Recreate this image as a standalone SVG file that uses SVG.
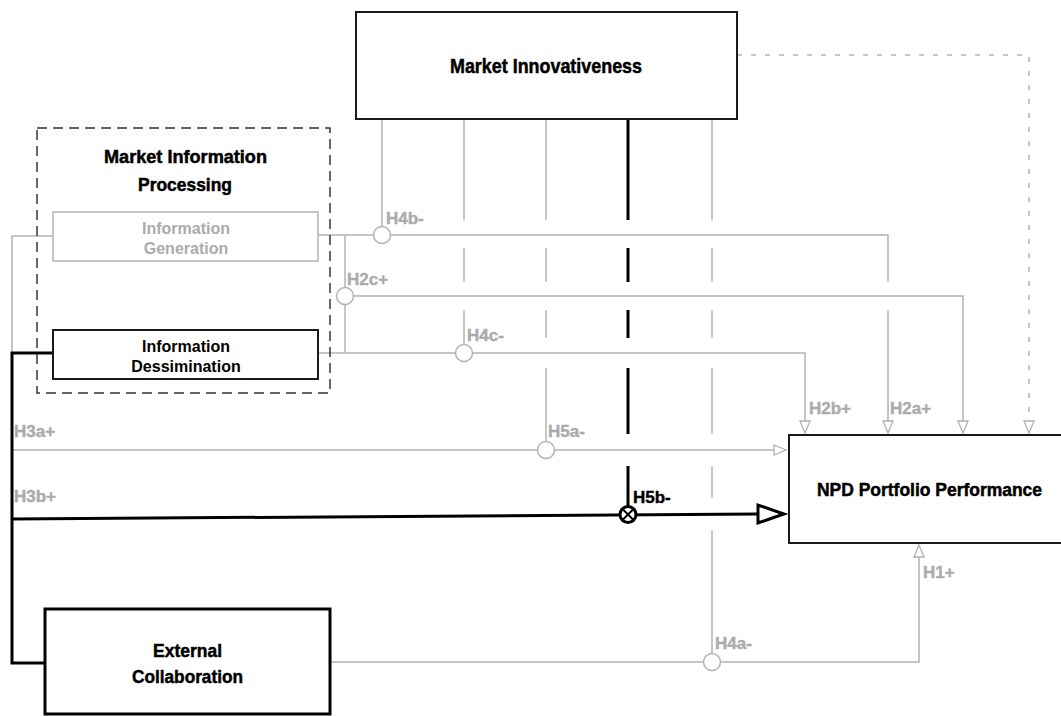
<svg xmlns="http://www.w3.org/2000/svg" width="1061" height="716" viewBox="0 0 1061 716">
  <defs>
    <style>
      .title { font-family: "Liberation Sans", Arial, sans-serif; font-weight: bold; fill: #000; stroke: #000; stroke-width: 0.5; text-anchor: middle; }
      .sub { font-family: "Liberation Sans", Arial, sans-serif; font-weight: bold; font-size: 16px; text-anchor: middle; }
      .lbl { font-family: "Liberation Sans", Arial, sans-serif; font-weight: bold; font-size: 17px; fill: #ababab; stroke: #ababab; stroke-width: 0.4; }
      .lbl-dark { fill: #000; stroke: #000; }
      .box { fill: #fff; stroke: #1a1a1a; stroke-width: 2; }
      .g { fill: none; stroke: #b3b3b3; stroke-width: 1.5; }
      .k { fill: none; stroke: #000; stroke-width: 3; }
      .dot { fill: #fff; stroke: #b3b3b3; stroke-width: 1.5; }
      .tip { fill: #fff; stroke: #b3b3b3; stroke-width: 1.3; stroke-linejoin: miter; }
    </style>
  </defs>

  <!-- connectors -->
  <g id="connectors">
    <!-- moderator verticals from Market Innovativeness, broken where they hop over crossings -->
    <path class="g" d="M382,119 V226.5"/>
    <path class="g" d="M464,119 V220 M464,248 V282 M464,310 V344.5"/>
    <path class="g" d="M546,119 V220 M546,248 V282 M546,310 V338 M546,368 V441.5"/>
    <path class="k" d="M628,119 V220 M628,248 V282 M628,310 V338 M628,368 V434 M628,466 V507"/>
    <path class="g" d="M712,119 V220 M712,248 V282 M712,310 V338 M712,368 V434 M712,466 V498 M712,530 V653.5"/>

    <!-- Information Generation -> NPD (H2a) -->
    <path class="g" d="M318,235 H888 V282 M888,310 V421"/>
    <!-- Information Generation -> Information Dessimination (H2c) -->
    <path class="g" d="M345,235 V353"/>
    <path class="g" d="M345,296 H963 V421"/>
    <!-- Information Dessimination -> NPD (H2b) -->
    <path class="g" d="M318,353 H805 V421"/>
    <!-- Information Generation -> NPD (H3a) -->
    <path class="g" d="M53,236 H12 V450 H774"/>
    <!-- Market Innovativeness -> NPD (dotted control path) -->
    <path class="g" d="M737,55 H1029 V421" stroke-dasharray="5 9"/>
    <!-- External Collaboration -> NPD (H1) -->
    <path class="g" d="M330,662 H919 V556"/>

    <!-- Information Dessimination / External Collaboration -> NPD (H3b) -->
    <path class="k" d="M53,353 H12 V663 H45"/>
    <path class="k" d="M12,519 L758,514"/>

    <!-- open arrowheads -->
    <path class="tip" d="M800,421 H810 L805,433 Z"/>
    <path class="tip" d="M883,421 H893 L888,433 Z"/>
    <path class="tip" d="M958,421 H968 L963,433 Z"/>
    <path class="tip" d="M1024,421 H1034 L1029,433 Z"/>
    <path class="tip" d="M774,445 V455 L786,450 Z"/>
    <path class="tip" d="M914,557 H924 L919,545 Z"/>
    <path d="M758,505 V523 L784,514 Z" fill="#fff" stroke="#000" stroke-width="3" stroke-linejoin="miter"/>

    <!-- moderation junctions -->
    <circle class="dot" cx="382" cy="235" r="8.5"/>
    <circle class="dot" cx="345" cy="296" r="8.5"/>
    <circle class="dot" cx="464" cy="353" r="8.5"/>
    <circle class="dot" cx="546" cy="450" r="8.5"/>
    <circle class="dot" cx="712" cy="662" r="8.5"/>
    <g id="junction-h5b">
      <circle cx="628" cy="514.5" r="8" fill="#fff" stroke="#000" stroke-width="3"/>
      <path d="M623,509.5 L633,519.5 M633,509.5 L623,519.5" stroke="#000" stroke-width="2"/>
    </g>

    <!-- hypothesis labels -->
    <text class="lbl" x="386" y="224">H4b-</text>
    <text class="lbl" x="347" y="285">H2c+</text>
    <text class="lbl" x="467" y="341">H4c-</text>
    <text class="lbl" x="548" y="437">H5a-</text>
    <text class="lbl lbl-dark" x="633" y="503">H5b-</text>
    <text class="lbl" x="14" y="437">H3a+</text>
    <text class="lbl" x="14" y="502">H3b+</text>
    <text class="lbl" x="809" y="414">H2b+</text>
    <text class="lbl" x="890" y="414">H2a+</text>
    <text class="lbl" x="923" y="578">H1+</text>
    <text class="lbl" x="715" y="649">H4a-</text>
  </g>

  <!-- Market Innovativeness -->
  <g id="market-innovativeness">
    <rect class="box" x="356" y="12" width="381" height="107"/>
    <text class="title" x="546" y="73" font-size="21" textLength="192" lengthAdjust="spacingAndGlyphs">Market Innovativeness</text>
  </g>

  <!-- Market Information Processing (grouping frame) -->
  <g id="market-information-processing">
    <rect x="37" y="128" width="293" height="265" fill="none" stroke="#333" stroke-width="1.5" stroke-dasharray="10 6"/>
    <text class="title" x="185.5" y="163" font-size="18" textLength="163" lengthAdjust="spacingAndGlyphs">Market Information</text>
    <text class="title" x="185" y="191" font-size="18" textLength="94" lengthAdjust="spacingAndGlyphs">Processing</text>
  </g>

  <!-- Information Generation -->
  <g id="information-generation">
    <rect x="53" y="212" width="265" height="49" fill="#fff" stroke="#b3b3b3" stroke-width="1.5"/>
    <text class="sub" x="186" y="234" fill="#ababab">Information</text>
    <text class="sub" x="186" y="254" fill="#ababab">Generation</text>
  </g>

  <!-- Information Dessimination -->
  <g id="information-dessimination">
    <rect x="53" y="330" width="265" height="49" fill="#fff" stroke="#1a1a1a" stroke-width="2"/>
    <text class="sub" x="186" y="352" fill="#000">Information</text>
    <text class="sub" x="186" y="372" fill="#000">Dessimination</text>
  </g>

  <!-- NPD Portfolio Performance -->
  <g id="npd-portfolio-performance">
    <rect class="box" x="789" y="435" width="280" height="108"/>
    <text class="title" x="929.5" y="496" font-size="19" textLength="225" lengthAdjust="spacingAndGlyphs">NPD Portfolio Performance</text>
  </g>

  <!-- External Collaboration -->
  <g id="external-collaboration">
    <rect x="45" y="609" width="285" height="105" fill="#fff" stroke="#000" stroke-width="3"/>
    <text class="title" x="187.5" y="657" font-size="19" textLength="69" lengthAdjust="spacingAndGlyphs">External</text>
    <text class="title" x="187.5" y="683" font-size="19" textLength="111" lengthAdjust="spacingAndGlyphs">Collaboration</text>
  </g>
</svg>
